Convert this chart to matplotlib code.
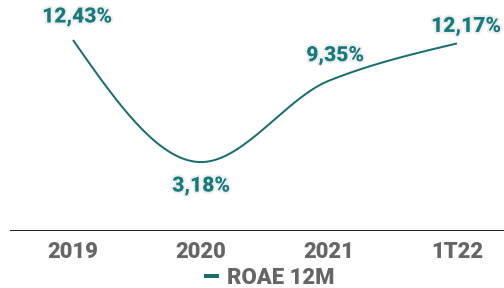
import numpy as np
import matplotlib
matplotlib.use("Agg")
import matplotlib.pyplot as plt
import matplotlib.patheffects as pe
from matplotlib.lines import Line2D

categories = ["2019", "2020", "2021", "1T22"]
roae = [12.43, 3.18, 9.35, 12.17]
labels = ["12,43%", "3,18%", "9,35%", "12,17%"]
series_name = "ROAE 12M"

TEAL = "#1b6e70"
TEAL_TXT = "#177a7c"
GRAY = "#666666"

def monotone_curve(x, y, n=60):
    x = np.asarray(x, float); y = np.asarray(y, float)
    h = np.diff(x); d = np.diff(y) / h
    m = np.zeros_like(y)
    for i in range(1, len(y) - 1):
        if d[i-1] * d[i] <= 0:
            m[i] = 0
        else:
            w1 = 2*h[i] + h[i-1]; w2 = h[i] + 2*h[i-1]
            m[i] = (w1 + w2) / (w1/d[i-1] + w2/d[i])
    m[0] = (3*d[0] - m[1]) / 2
    m[-1] = (3*d[-1] - m[-2]) / 2
    xs, ys = [], []
    for i in range(len(x) - 1):
        t = np.linspace(0, 1, n)
        h00 = 2*t**3 - 3*t**2 + 1; h10 = t**3 - 2*t**2 + t
        h01 = -2*t**3 + 3*t**2; h11 = t**3 - t**2
        xs.append(x[i] + t*h[i])
        ys.append(h00*y[i] + h10*h[i]*m[i] + h01*y[i+1] + h11*h[i]*m[i+1])
    return np.concatenate(xs), np.concatenate(ys)

W, H = 504, 288
fig = plt.figure(figsize=(W/72, H/72), dpi=72)
ax = fig.add_axes([10/W, 1 - 230/H, 494/W, 230/H])

xi = np.arange(len(categories))
cx, cy = monotone_curve(xi, roae)
ax.plot(cx, cy, color=TEAL, lw=2, solid_capstyle="butt")

ppu = 13.2
ax.set_xlim(-63/128, -63/128 + 494/128)
ax.set_ylim(12.43 - 190/ppu, 12.43 + 40/ppu)

outline = [pe.withStroke(linewidth=4, foreground="#eeeeee")]
offsets = [(4, 23), (0, -24), (6, 25), (9, 17)]
for i, (v, lab) in enumerate(zip(roae, labels)):
    ax.annotate(lab, (i, v), xytext=offsets[i], textcoords="offset points",
                ha="center", va="center", fontsize=21, fontweight=900,
                family="Roboto", color=TEAL_TXT, path_effects=outline)

for s in ["top", "right", "left"]:
    ax.spines[s].set_visible(False)
ax.spines["bottom"].set_color("#222222")
ax.spines["bottom"].set_linewidth(1)
ax.set_yticks([])
ax.set_xticks(xi)
ax.set_xticklabels(categories, fontsize=22, fontweight=900, family="Roboto", color=GRAY)
ax.tick_params(axis="x", length=0, pad=11)

handle = Line2D([], [], color=TEAL, lw=4)
fig.legend([handle], [series_name], loc="center", bbox_to_anchor=(270/W, 1 - 278/H),
           frameon=False, handlelength=0.5, handletextpad=0.45,
           prop={"family": "Roboto", "weight": 900, "size": 22}, labelcolor=GRAY)

fig.savefig("out.png", dpi=72)
